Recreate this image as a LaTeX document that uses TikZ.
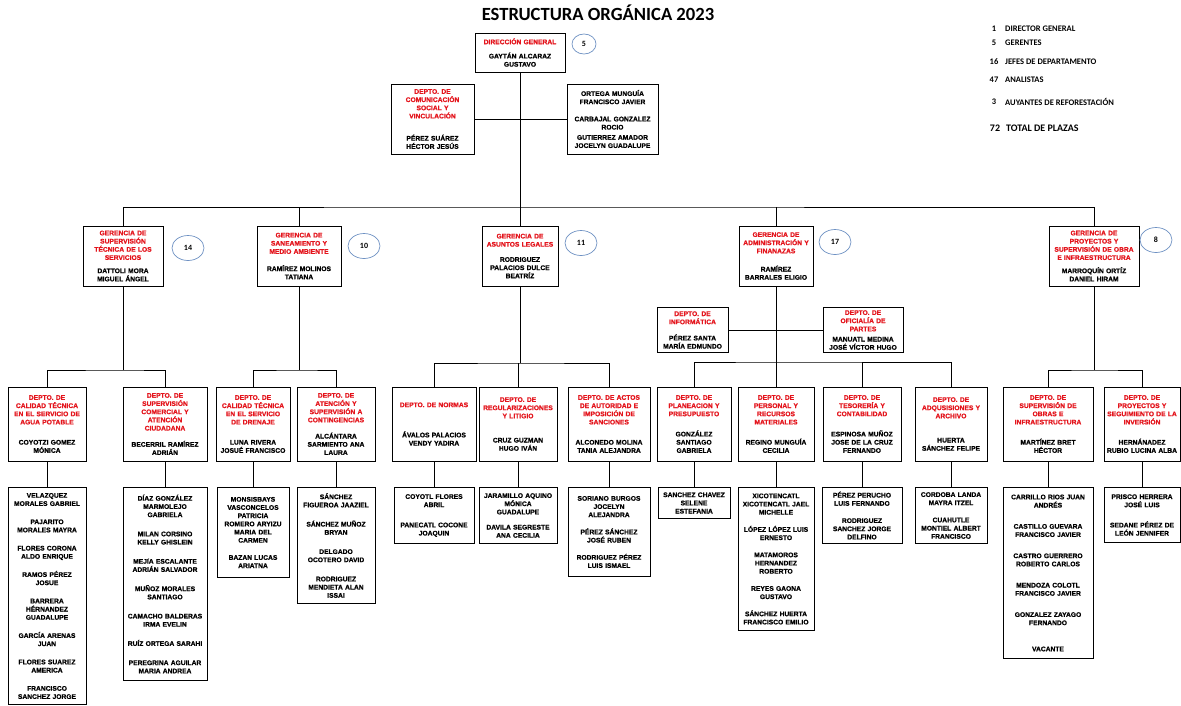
\documentclass[tikz,border=0pt]{standalone}
\usepackage{fontspec}
\setmainfont{Liberation Sans}[BoldFeatures={FakeBold=0.8}]
\newfontfamily\calib{Carlito}
\usepackage{tikz}
\usetikzlibrary{shapes.geometric}
\definecolor{ttlred}{RGB}{228,20,28}
\definecolor{cntblue}{RGB}{110,145,195}
\newcommand{\ttl}[1]{\textcolor{ttlred}{#1}}

\begin{document}
\begin{tikzpicture}[x=1pt, y=-1pt,
    unit/.style={draw, line width=1pt, align=center, inner xsep=0pt, inner ysep=2pt,
                 font=\bfseries\fontsize{6.7}{8.2}\selectfont},
    sz/.style 2 args={minimum width=#1pt, text width=#1pt, minimum height=#2pt},
    cnt/.style={ellipse, draw=cntblue, line width=0.7pt, inner sep=0pt,
                minimum width=32pt, minimum height=25pt,
                font=\calib\bfseries\fontsize{8}{9}\selectfont},
    lnk/.style={line width=0.9pt},
    leg/.style={font=\calib\bfseries\fontsize{8.5}{10}\selectfont, inner sep=0pt}]
            \useasboundingbox (0,0) rectangle (1181,705);
            \fill [white] (0,0) rectangle (1181,705);

            \node [font=\calib\bfseries\fontsize{18.6}{20}\selectfont, inner sep=0pt] (title) at (598,13) {ESTRUCTURA ORGÁNICA 2023};

            % legend
            \node [leg] (q1) at (994,29) {1};
            \node [leg, anchor=west] (t1) at (1005,29) {DIRECTOR GENERAL};
            \node [leg] (q2) at (994,43) {5};
            \node [leg, anchor=west] (t2) at (1005,43) {GERENTES};
            \node [leg] (q3) at (994,62) {16};
            \node [leg, anchor=west] (t3) at (1005,62) {JEFES DE DEPARTAMENTO};
            \node [leg] (q4) at (994,80) {47};
            \node [leg, anchor=west] (t4) at (1005,80) {ANALISTAS};
            \node [leg] (q5) at (994,102) {3};
            \node [leg, anchor=west] (t5) at (1005,102) {AUYANTES DE REFORESTACIÓN};
            \node [leg, font=\calib\bfseries\fontsize{10}{12}\selectfont] (q6) at (995,128) {72};
            \node [leg, font=\calib\bfseries\fontsize{10}{12}\selectfont, anchor=west] (t6) at (1006,128) {TOTAL DE PLAZAS};

            % direccion
            \node [unit, sz={90}{39}] (dir) at (520,52.5) {\ttl{DIRECCIÓN GENERAL}\\[6pt]GAYTÁN ALCARAZ\\GUSTAVO};
            \node [cnt, minimum width=24pt, minimum height=20pt] (n5) at (584,44) {5};
            \node [unit, sz={83}{70}] (com) at (432.5,119) {\ttl{DEPTO. DE\\COMUNICACIÓN\\SOCIAL Y\\VINCULACIÓN}\\[14pt]PÉREZ SUÁREZ\\HÉCTOR JESÚS};
            \node [unit, sz={91}{70}] (adv) at (612.5,119) {ORTEGA MUNGUÍA\\FRANCISCO JAVIER\\[9pt]CARBAJAL GONZALEZ\\ROCIO\\[2pt]GUTIERREZ AMADOR\\JOCELYN GUADALUPE};

            % gerencias
            \node [unit, sz={80}{60}] (g1) at (123,256) {\ttl{GERENCIA DE\\SUPERVISIÓN\\TÉCNICA DE LOS\\SERVICIOS}\\[5pt]DATTOLI MORA\\MIGUEL ÁNGEL};
            \node [unit, sz={84}{60}] (g2) at (299,256) {\ttl{GERENCIA DE\\SANEAMIENTO Y\\MEDIO AMBIENTE}\\[9pt]RAMÍREZ MOLINOS\\TATIANA};
            \node [unit, sz={76}{60}] (g3) at (520,256) {\ttl{GERENCIA DE\\ASUNTOS LEGALES}\\[7pt]RODRIGUEZ\\PALACIOS DULCE\\BEATRÍZ};
            \node [unit, sz={74}{60}] (g4) at (776,256) {\ttl{GERENCIA DE\\ADMINISTRACIÓN Y\\FINANAZAS}\\[10pt]RAMÍREZ\\BARRALES ELIGIO};
            \node [unit, sz={90}{60}] (g5) at (1094,256) {\ttl{GERENCIA DE\\PROYECTOS Y\\SUPERVISIÓN DE OBRA\\E INFRAESTRUCTURA}\\[5pt]MARROQUÍN ORTÍZ\\DANIEL HIRAM};
            \node [cnt] (n14) at (188,248) {14};
            \node [cnt] (n10) at (364,246) {10};
            \node [cnt] (n11) at (581,243) {11};
            \node [cnt] (n17) at (835,242) {17};
            \node [cnt] (n8) at (1156,240) {8};

            \node [unit, sz={71}{45}] (inf) at (692.5,330) {\ttl{DEPTO. DE\\INFORMÁTICA}\\[8pt]PÉREZ SANTA\\MARÍA EDMUNDO};
            \node [unit, sz={80}{45}] (ofi) at (863,330) {\ttl{DEPTO. DE\\OFICIALÍA DE\\PARTES}\\[2pt]MANUATL MEDINA\\JOSÉ VÍCTOR HUGO};

            % departamentos
            \node [unit, sz={78}{74}] (d1) at (47,424) {\ttl{DEPTO. DE\\CALIDAD TÉCNICA\\EN EL SERVICIO DE\\AGUA POTABLE}\\[12pt]COYOTZI GOMEZ\\MÓNICA};
            \node [unit, sz={84}{74}] (d2) at (165,424) {\ttl{DEPTO. DE\\SUPERVISIÓN\\COMERCIAL Y\\ATENCIÓN\\CIUDADANA}\\[8pt]BECERRIL RAMÍREZ\\ADRIÁN};
            \node [unit, sz={74}{74}] (d3) at (253,424) {\ttl{DEPTO. DE\\CALIDAD TÉCNICA\\EN EL SERVICIO\\DE DRENAJE}\\[12pt]LUNA RIVERA\\JOSUÉ FRANCISCO};
            \node [unit, sz={78}{74}] (d4) at (336,424) {\ttl{DEPTO. DE\\ATENCIÓN Y\\SUPERVISIÓN A\\CONTINGENCIAS}\\[8pt]ALCÁNTARA\\SARMIENTO ANA\\LAURA};
            \node [unit, sz={84}{74}] (d5) at (434,424) {\ttl{DEPTO. DE NORMAS}\\[22pt]ÁVALOS PALACIOS\\VENDY YADIRA};
            \node [unit, sz={78}{74}] (d6) at (518,424) {\ttl{DEPTO. DE\\REGULARIZACIONES\\Y LITIGIO}\\[16pt]CRUZ GUZMAN\\HUGO IVÁN};
            \node [unit, sz={82}{74}] (d7) at (609,424) {\ttl{DEPTO. DE ACTOS\\DE AUTORIDAD E\\IMPOSICIÓN DE\\SANCIONES}\\[12pt]ALCONEDO MOLINA\\TANIA ALEJANDRA};
            \node [unit, sz={74}{74}] (d8) at (694,424) {\ttl{DEPTO. DE\\PLANEACION Y\\PRESUPUESTO}\\[12pt]GONZÁLEZ\\SANTIAGO\\GABRIELA};
            \node [unit, sz={76}{74}] (d9) at (776,424) {\ttl{DEPTO. DE\\PERSONAL Y\\RECURSOS\\MATERIALES}\\[12pt]REGINO MUNGUÍA\\CECILIA};
            \node [unit, sz={78}{74}] (d10) at (862,424) {\ttl{DEPTO. DE\\TESORERÍA Y\\CONTABILIDAD}\\[12pt]ESPINOSA MUÑOZ\\JOSE DE LA CRUZ\\FERNANDO};
            \node [unit, sz={72}{74}] (d11) at (951,424) {\ttl{DEPTO. DE\\ADQUSISIONES Y\\ARCHIVO}\\[16pt]HUERTA\\SÁNCHEZ FELIPE};
            \node [unit, sz={90}{74}] (d12) at (1048,424) {\ttl{DEPTO. DE\\SUPERVISIÓN DE\\OBRAS E\\INFRAESTRUCTURA}\\[12pt]MARTÍNEZ BRET\\HÉCTOR};
            \node [unit, sz={76}{74}] (d13) at (1142,424) {\ttl{DEPTO. DE\\PROYECTOS Y\\SEGUIMIENTO DE LA\\INVERSIÓN}\\[12pt]HERNÁNADEZ\\RUBIO LUCINA ALBA};

            % analistas
            \node [unit, sz={78}{217}, anchor=north] (a1) at (47,487) {VELAZQUEZ\\MORALES GABRIEL\\[10pt]PAJARITO\\MORALES MAYRA\\[10pt]FLORES CORONA\\ALDO ENRIQUE\\[10pt]RAMOS PÉREZ\\JOSUE\\[10pt]BARRERA\\HÉRNANDEZ\\GUADALUPE\\[10pt]GARCÍA ARENAS\\JUAN\\[10pt]FLORES SUAREZ\\AMERICA\\[10pt]FRANCISCO\\SANCHEZ JORGE};
            \node [unit, sz={84}{193}, anchor=north] (a2) at (165,487) {DÍAZ GONZÁLEZ\\MARMOLEJO\\GABRIELA\\[11pt]MILAN CORSINO\\KELLY GHISLEIN\\[11pt]MEJíA ESCALANTE\\ADRIÁN SALVADOR\\[11pt]MUÑOZ MORALES\\SANTIAGO\\[11pt]CAMACHO BALDERAS\\IRMA EVELIN\\[11pt]RUÍZ ORTEGA SARAHI\\[11pt]PEREGRINA AGUILAR\\MARIA ANDREA};
            \node [unit, sz={72}{90}, anchor=north] (a3) at (253,487) {MONSISBAYS\\VASCONCELOS\\PATRICIA\\ROMERO ARYIZU\\MARIA DEL\\CARMEN\\[9pt]BAZAN LUCAS\\ARIATNA};
            \node [unit, sz={78}{116}, anchor=north] (a4) at (336,487) {SÁNCHEZ\\FIGUEROA JAAZIEL\\[11pt]SÁNCHEZ MUÑOZ\\BRYAN\\[11pt]DELGADO\\OCOTERO DAVID\\[11pt]RODRIGUEZ\\MENDIETA ALAN\\ISSAI};
            \node [unit, sz={80}{56}, anchor=north] (a5) at (434,487) {COYOTL FLORES\\ABRIL\\[12pt]PANECATL COCONE\\JOAQUIN};
            \node [unit, sz={78}{56}, anchor=north] (a6) at (518,487) {JARAMILLO AQUINO\\MÓNICA\\GUADALUPE\\[7pt]DAVILA SEGRESTE\\ANA CECILIA};
            \node [unit, sz={82}{89}, anchor=north] (a7) at (609,487) {SORIANO BURGOS\\JOCELYN\\ALEJANDRA\\[9pt]PÉREZ SÁNCHEZ\\JOSÉ RUBEN\\[9pt]RODRIGUEZ PÉREZ\\LUIS ISMAEL};
            \node [unit, sz={72}{31}, anchor=north] (a8) at (694,487) {SANCHEZ CHAVEZ\\SELENE\\ESTEFANIA};
            \node [unit, sz={76}{143}, anchor=north] (a9) at (776,487) {XICOTENCATL\\XICOTENCATL JAEL\\MICHELLE\\[9pt]LÓPEZ LÓPEZ LUIS\\ERNESTO\\[9pt]MATAMOROS\\HERNANDEZ\\ROBERTO\\[9pt]REYES GAONA\\GUSTAVO\\[9pt]SÁNCHEZ HUERTA\\FRANCISCO EMILIO};
            \node [unit, sz={80}{56}, anchor=north] (a10) at (862,487) {PÉREZ PERUCHO\\LUIS FERNANDO\\[9pt]RODRIGUEZ\\SANCHEZ JORGE\\DELFINO};
            \node [unit, sz={72}{56}, anchor=north] (a11) at (951,487) {CORDOBA LANDA\\MAYRA ITZEL\\[9pt]CUAHUTLE\\MONTIEL ALBERT\\FRANCISCO};
            \node [unit, sz={90}{171}, anchor=north] (a12) at (1048,487) {CARRILLO RIOS JUAN\\ANDRÉS\\[13pt]CASTILLO GUEVARA\\FRANCISCO JAVIER\\[13pt]CASTRO GUERRERO\\ROBERTO CARLOS\\[13pt]MENDOZA COLOTL\\FRANCISCO JAVIER\\[13pt]GONZALEZ ZAYAGO\\FERNANDO\\[18pt]VACANTE};
            \node [unit, sz={76}{55}, anchor=north] (a13) at (1142,487) {PRISCO HERRERA\\JOSÉ LUIS\\[12pt]SEDANE PÉREZ DE\\LEÓN JENNIFER};

            % lineas
            \coordinate (bus) at (520,207);
            \draw [lnk] (dir.south) -- (g3.north);
            \draw [lnk] (com.east) -- (adv.west);
            \draw [lnk] (g1.north) |- (bus) -| (g5.north);
            \draw [lnk] (g2.north) -- (g2.north |- bus);
            \draw [lnk] (g4.north) -- (g4.north |- bus);

            \coordinate (b1) at (123,370);
            \coordinate (b2) at (299,370);
            \coordinate (b3) at (520,363);
            \coordinate (b4) at (776,362);
            \coordinate (b5) at (1094,370);
            \draw [lnk] (g1.south) -- (b1);
            \draw [lnk] (d1.north) |- (b1) -| (d2.north);
            \draw [lnk] (g2.south) -- (b2);
            \draw [lnk] (d3.north) |- (b2) -| (d4.north);
            \draw [lnk] (g3.south) -- (b3);
            \draw [lnk] (d5.north) |- (b3) -| (d7.north);
            \draw [lnk] (d6.north) -- (d6.north |- b3);
            \draw [lnk] (g4.south) -- (b4);
            \draw [lnk] (inf.east) -- (ofi.west);
            \draw [lnk] (d8.north) |- (b4) -| (d11.north);
            \draw [lnk] (d9.north) -- (d9.north |- b4);
            \draw [lnk] (d10.north) -- (d10.north |- b4);
            \draw [lnk] (g5.south) -- (b5);
            \draw [lnk] (d12.north) |- (b5) -| (d13.north);
            \foreach \i in {1,...,13}
                \draw [lnk] (d\i.south) -- (a\i.north);
        \end{tikzpicture}
\end{document}
